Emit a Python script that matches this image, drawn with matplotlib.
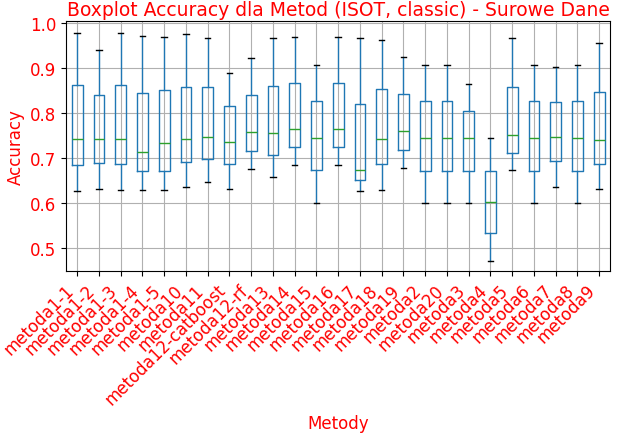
import matplotlib
matplotlib.use("Agg")
import matplotlib.pyplot as plt

methods = ["metoda1-1","metoda1-2","metoda1-3","metoda1-4","metoda1-5","metoda10","metoda11",
           "metoda12-catboost","metoda12-rf","metoda13","metoda14","metoda15","metoda16","metoda17",
           "metoda18","metoda19","metoda2","metoda20","metoda3","metoda4","metoda5","metoda6",
           "metoda7","metoda8","metoda9"]
whislo = [.627,.632,.630,.630,.630,.637,.647,.632,.675,.658,.685,.600,.685,.628,.630,.678,.600,.600,.600,.472,.673,.600,.637,.600,.632]
q1     = [.685,.690,.688,.672,.672,.692,.698,.688,.715,.707,.725,.673,.725,.652,.688,.718,.672,.672,.672,.535,.712,.672,.693,.672,.688]
med    = [.742,.742,.742,.713,.733,.742,.748,.737,.758,.755,.764,.745,.764,.673,.742,.760,.745,.745,.745,.602,.752,.745,.747,.745,.740]
q3     = [.862,.840,.862,.845,.852,.858,.858,.815,.840,.860,.867,.826,.867,.820,.853,.842,.826,.826,.805,.672,.858,.826,.825,.826,.847]
whishi = [.978,.940,.978,.972,.970,.975,.967,.890,.922,.967,.968,.906,.968,.966,.962,.925,.906,.906,.865,.745,.966,.906,.903,.906,.955]

stats = [dict(label=m, whislo=a, q1=b, med=c, q3=d, whishi=e, fliers=[])
         for m, a, b, c, d, e in zip(methods, whislo, q1, med, q3, whishi)]

fig, ax = plt.subplots(figsize=(6.2, 4.35), dpi=100)
ax.bxp(stats, showfliers=False,
       boxprops=dict(color="#1f77b4"), whiskerprops=dict(color="#1f77b4"),
       capprops=dict(color="black"), medianprops=dict(color="#2ca02c"))
ax.grid(True)
ax.set_ylim(0.45, 1.005)
ax.set_title("Boxplot Accuracy dla Metod (ISOT, classic) - Surowe Dane", color="red", fontsize=13.5, pad=4)
ax.set_xlabel("Metody", color="red", fontsize=12)
ax.set_ylabel("Accuracy", color="red", fontsize=12)
ax.tick_params(axis="both", labelcolor="red", labelsize=12)
plt.setp(ax.get_xticklabels(), rotation=45, ha="right")
fig.subplots_adjust(left=0.107, right=0.984, top=0.95, bottom=0.375)
fig.savefig("out.png")
